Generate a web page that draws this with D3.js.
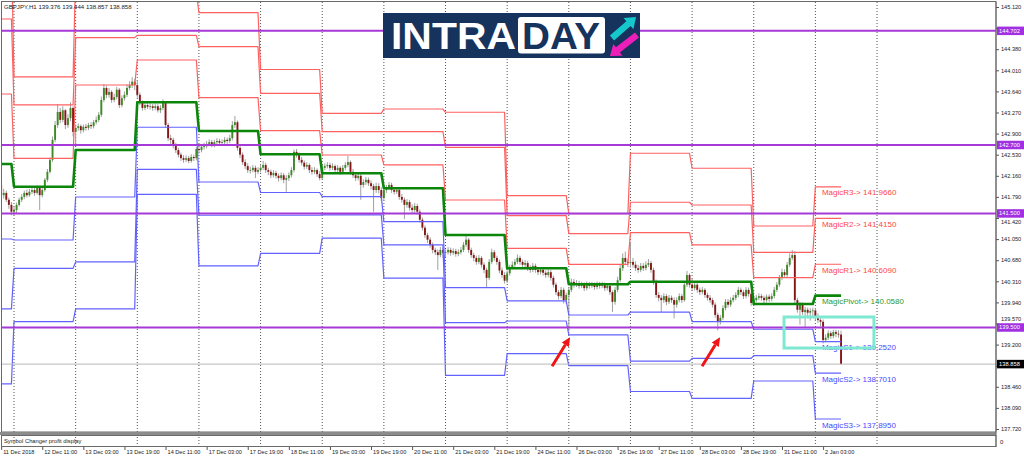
<!DOCTYPE html>
<html><head><meta charset="utf-8">
<script src="https://cdn.jsdelivr.net/npm/d3@7"></script>
<style>
body{margin:0;background:#fff}
svg{display:block}
text{font-family:"Liberation Sans",Arial,sans-serif}
</style>
</head><body>
<svg id="c" width="1024" height="459"></svg>
<script>
// ---------------- DATA ----------------
const title = "GBPJPY,H1  139.376 139.444 138.857 138.858";
const subTitle = "Symbol Changer profit display";
const days = ["11 Dec","12 Dec","13 Dec","14 Dec","17 Dec","18 Dec","19 Dec","20 Dec","21 Dec","24 Dec","26 Dec","27 Dec","28 Dec","31 Dec","2 Jan"];
const barsPerDay = [5,24,24,24,24,24,24,24,24,24,24,24,24,24,11];
const firstOpen = 142.00;
const closes = [
141.82,141.86,141.74,141.65,141.53,
141.56,141.65,141.74,141.79,141.86,141.82,141.88,141.91,141.86,141.95,141.82,141.91,142.09,142.23,142.44,142.79,143.05,143.28,143.14,143.31,143.05,143.17,143.35,142.93,
143.00,143.03,142.96,143.02,143.00,143.05,143.03,143.10,143.14,143.23,143.49,143.70,143.58,143.63,143.49,143.54,143.67,143.40,143.52,143.58,143.70,143.75,143.81,143.75,
143.58,143.44,143.35,143.40,143.37,143.38,143.35,143.38,143.31,143.35,143.44,143.05,142.82,142.79,142.70,142.61,142.53,142.47,142.44,142.47,142.42,142.49,142.47,142.63,
142.61,142.67,142.68,142.72,142.75,142.70,142.75,142.77,142.74,142.75,142.79,142.77,142.82,143.05,143.10,142.65,142.53,142.40,142.33,142.26,142.26,142.30,142.23,142.26,
142.30,142.35,142.26,142.23,142.17,142.21,142.16,142.12,142.17,142.09,142.12,142.17,142.26,142.58,142.53,142.44,142.39,142.32,142.35,142.26,142.23,142.26,142.19,142.12,
142.30,142.33,142.35,142.30,142.33,142.26,142.30,142.23,142.30,142.35,142.40,142.23,142.17,142.12,142.16,142.00,142.05,142.09,142.03,141.98,141.91,141.98,141.91,141.77,
141.91,141.95,142.00,141.91,141.88,141.91,141.79,141.74,141.65,141.70,141.60,141.56,141.63,141.53,141.39,141.25,141.12,141.04,140.95,140.86,140.82,140.77,140.86,140.81,
140.82,140.86,140.81,140.84,140.79,140.82,140.86,140.95,141.04,140.86,140.77,140.72,140.65,140.72,140.60,140.51,140.37,140.65,140.82,140.72,140.65,140.50,140.42,140.32,
140.45,140.55,140.60,140.65,140.72,140.65,140.60,140.63,140.54,140.51,140.58,140.51,140.47,140.51,140.46,140.42,140.47,140.37,140.25,140.12,140.05,140.16,139.98,140.07,
140.16,140.30,140.25,140.28,140.23,140.25,140.19,140.26,140.23,140.25,140.21,140.26,140.23,140.25,140.19,140.23,140.12,139.95,140.16,140.33,140.54,140.72,140.65,140.63,
140.65,140.60,140.54,140.51,140.58,140.54,140.60,140.63,140.51,140.30,140.07,140.02,139.98,140.05,139.95,140.02,139.98,139.90,139.98,140.05,139.98,140.25,140.42,140.25,
140.19,140.25,140.16,140.12,140.16,140.07,140.02,139.98,139.90,139.72,139.60,139.67,139.84,139.95,139.90,139.98,140.02,140.07,140.16,140.12,140.05,140.16,140.09,139.93,
139.98,140.02,140.05,140.02,139.98,140.04,140.00,140.05,140.16,140.25,140.37,140.47,140.42,140.60,140.72,140.77,139.98,139.81,139.90,139.77,139.81,139.76,139.79,139.80,
139.70,139.63,139.60,139.28,139.32,139.40,139.35,139.42,139.39,139.376,138.858
];
const highs = [
142.06,141.93,141.90,141.78,141.70,
141.62,141.69,141.78,141.84,141.90,141.92,141.93,141.96,141.95,141.99,141.98,141.95,142.12,142.28,142.48,142.85,143.12,143.42,143.35,143.38,143.33,143.24,143.45,143.38,
143.06,143.08,143.06,143.06,143.07,143.09,143.10,143.14,143.20,143.28,143.55,143.77,143.74,143.70,143.66,143.60,143.72,143.70,143.57,143.64,143.76,143.82,143.89,143.86,
143.84,143.62,143.48,143.45,143.44,143.43,143.42,143.43,143.42,143.40,143.50,143.47,143.09,142.88,142.83,142.74,142.65,142.57,142.52,142.52,142.51,142.54,142.53,142.66,
142.68,142.72,142.74,142.77,142.80,142.79,142.79,142.82,142.81,142.80,142.84,142.83,142.88,143.12,143.21,143.13,142.68,142.57,142.45,142.38,142.32,142.35,142.34,142.31,
142.36,142.42,142.39,142.30,142.27,142.26,142.25,142.20,142.22,142.21,142.17,142.22,142.31,142.62,142.63,142.57,142.49,142.43,142.40,142.38,142.31,142.31,142.29,142.24,
142.35,142.38,142.40,142.39,142.38,142.36,142.35,142.33,142.35,142.40,142.51,142.43,142.28,142.22,142.21,142.19,142.10,142.14,142.13,142.08,142.02,142.04,142.03,141.96,
141.96,142.00,142.05,142.04,141.96,141.96,141.94,141.84,141.78,141.75,141.74,141.66,141.68,141.67,141.57,141.43,141.29,141.16,141.08,140.99,140.90,140.87,140.91,140.90,
140.87,140.91,140.90,140.89,140.88,140.87,140.91,141.00,141.11,141.07,140.90,140.81,140.76,140.77,140.75,140.64,140.55,140.70,140.88,140.86,140.76,140.69,140.55,140.47,
140.50,140.60,140.66,140.70,140.78,140.76,140.69,140.68,140.67,140.59,140.63,140.62,140.56,140.56,140.55,140.50,140.52,140.51,140.41,140.29,140.16,140.21,140.20,140.11,
140.21,140.36,140.35,140.33,140.32,140.30,140.29,140.31,140.30,140.30,140.29,140.31,140.30,140.30,140.29,140.28,140.26,140.15,140.21,140.39,140.60,140.80,140.83,140.70,
141.00,140.72,140.66,140.60,140.63,140.63,140.66,140.70,140.67,140.55,140.34,140.12,140.07,140.10,140.09,140.07,140.06,140.03,140.03,140.10,140.09,140.30,140.49,140.45,
140.36,140.30,140.28,140.20,140.21,140.19,140.11,140.07,140.02,139.94,139.76,139.72,139.89,140.00,140.00,140.03,140.07,140.12,140.21,140.20,140.16,140.21,140.20,140.12,
140.03,140.07,140.10,140.09,140.06,140.08,140.08,140.10,140.21,140.30,140.42,140.53,140.52,140.65,140.80,140.86,140.84,140.02,139.95,139.94,139.86,139.85,139.84,139.85,
139.84,139.75,139.68,139.64,139.38,139.45,139.44,139.46,139.46,139.45,139.444
];
const lows = [
141.78,141.76,141.70,141.58,141.47,
141.47,141.50,141.62,141.70,141.75,141.78,141.79,141.84,141.81,141.83,141.56,141.78,141.88,142.05,142.20,142.40,142.75,143.00,143.08,143.10,142.98,143.00,143.12,142.85,
142.70,142.95,142.90,142.92,142.95,142.96,142.98,142.99,143.06,143.10,143.19,143.45,143.52,143.53,143.44,143.45,143.50,143.35,143.36,143.48,143.54,143.66,143.70,143.66,
143.53,143.40,143.30,143.31,143.33,143.32,143.30,143.31,143.27,143.26,143.31,143.00,142.77,142.72,142.64,142.56,142.48,142.42,142.39,142.40,142.38,142.39,142.42,142.43,
142.55,142.57,142.62,142.64,142.68,142.66,142.66,142.71,142.69,142.70,142.71,142.72,142.73,142.78,143.00,142.60,142.47,142.35,142.28,142.21,142.20,142.22,142.12,142.19,
142.22,142.26,142.21,142.17,142.12,142.13,142.11,142.06,142.08,142.03,141.88,142.07,142.13,142.22,142.48,142.39,142.34,142.27,142.28,142.21,142.18,142.19,142.14,142.08,
142.10,142.26,142.29,142.25,142.26,142.21,142.22,142.18,142.19,142.26,142.31,142.18,142.12,142.07,142.08,141.74,141.95,142.00,141.98,141.92,141.53,141.86,141.85,141.72,
141.72,141.86,141.91,141.86,141.83,141.84,141.74,141.69,141.40,141.60,141.55,141.50,141.51,141.48,141.34,141.20,141.07,140.98,140.90,140.80,140.77,140.51,140.73,140.72,
140.73,140.78,140.76,140.77,140.74,140.75,140.78,140.82,140.91,140.81,140.72,140.66,140.60,140.61,140.55,140.45,140.21,140.33,140.61,140.67,140.60,140.45,140.37,140.27,
140.28,140.41,140.52,140.56,140.61,140.60,140.55,140.56,140.49,140.46,140.47,140.46,140.42,140.43,140.41,140.37,140.38,140.32,140.20,140.07,139.99,140.01,139.92,139.91,
139.44,140.12,140.20,140.21,140.18,140.19,140.14,140.15,140.18,140.19,140.16,140.17,140.18,140.19,140.14,140.15,140.07,139.77,139.90,140.12,140.29,140.49,140.60,140.56,
140.55,140.55,140.49,140.46,140.47,140.49,140.50,140.56,140.46,140.25,140.02,139.96,139.77,139.93,139.89,139.91,139.93,139.66,139.85,139.94,139.93,139.95,140.21,140.20,
140.14,140.15,140.11,140.07,140.08,140.02,139.97,139.93,139.85,139.67,139.45,139.55,139.63,139.80,139.85,139.86,139.94,139.98,140.03,140.07,140.00,140.01,140.04,139.88,
139.89,139.94,139.98,139.97,139.93,139.94,139.95,139.96,140.01,140.12,140.21,140.33,140.37,140.38,140.56,140.68,139.93,139.76,139.55,139.72,139.51,139.70,139.62,139.70,
139.62,139.58,139.52,139.22,139.24,139.28,139.30,139.31,139.33,139.32,138.857
];
// daily Magic pivot levels (one value per day)
const pivotP = [142.367,141.969,142.613,143.449,142.946,142.537,142.204,141.941,141.122,140.538,140.258,140.303,140.303,139.912,140.058];
const levelR1 = [143.594,142.467,143.752,144.191,143.530,142.951,142.525,142.350,141.736,140.889,140.608,141.162,140.947,140.373,140.609];
const levelR2 = [144.910,143.402,144.582,144.624,144.424,143.607,142.933,142.933,142.660,141.462,141.147,141.696,141.648,140.817,141.415];
const levelR3 = [146.137,143.893,145.716,145.366,145.020,144.024,143.254,143.331,143.274,141.813,141.497,142.555,142.292,141.280,141.966];
const levelS1 = [141.052,141.034,141.788,143.011,142.051,141.867,141.795,141.357,140.198,139.965,139.719,139.770,139.602,139.469,139.252];
const levelS2 = [139.825,140.537,140.649,142.274,141.468,141.468,141.475,140.948,139.584,139.614,139.369,138.911,138.958,139.007,138.701];
const levelS3 = [138.510,139.602,139.825,141.836,140.579,140.798,141.066,140.365,138.660,139.041,138.830,138.378,138.257,138.562,137.895];
const pivotNames = ["MagicR3","MagicR2","MagicR1","MagicPivot","MagicS1","MagicS2","MagicS3"];
const horizontalLevels = [144.702, 142.700, 141.500, 139.500];
const lastPrice = 138.858;
const priceTicks = [137.720,138.090,138.460,138.830,139.200,139.570,139.940,140.310,140.680,141.050,141.420,141.790,142.160,142.530,142.900,143.270,143.640,144.010,144.380,144.750,145.120];
const timeLabels = ["11 Dec 2018","12 Dec 11:00","13 Dec 03:00","13 Dec 19:00","14 Dec 11:00","17 Dec 03:00","17 Dec 19:00","18 Dec 11:00","19 Dec 03:00","19 Dec 19:00","20 Dec 11:00","21 Dec 03:00","21 Dec 19:00","24 Dec 11:00","26 Dec 03:00","26 Dec 19:00","27 Dec 11:00","28 Dec 03:00","28 Dec 19:00","31 Dec 11:00","2 Jan 03:00"];
const labelEvery = 16;
const arrowTips = [{bar:221.5, price:139.33},{bar:279.9, price:139.33}];
const zoneBox = {bar0:304.8, bar1:339.8, top:139.684, bottom:139.140};

// ---------------- SCALES ----------------
const svg = d3.select("#c");
const P = {left:2, right:996, top:2, bottom:432, subTop:436, subBottom:447};
const x = d3.scaleLinear().domain([0, closes.length-1]).range([1.16, 841.06]);
const y = d3.scaleLinear().domain([137.72,145.12]).range([429,7]);

svg.append("rect").attr("width",1024).attr("height",459).attr("fill","#fff");
svg.append("defs").append("clipPath").attr("id","clip")
  .append("rect").attr("x",P.left).attr("y",P.top).attr("width",P.right-P.left).attr("height",P.bottom-P.top);

// day structure
const dayStart = []; let acc = 0;
barsPerDay.forEach(n => { dayStart.push(acc); acc += n; });
const dayOfBar = [];
barsPerDay.forEach((n,d) => { for (let k=0;k<n;k++) dayOfBar.push(d); });

// ---------------- PERIOD SEPARATORS ----------------
const sepBars = dayStart.slice(1).concat([dayStart[dayStart.length-1]+24]);
svg.append("g").selectAll("line").data(sepBars).join("line")
  .attr("x1",d=>x(d)).attr("x2",d=>x(d)).attr("y1",P.top).attr("y2",P.subBottom)
  .attr("stroke","#555").attr("stroke-width",1).attr("stroke-dasharray","1,2");

const g = svg.append("g").attr("clip-path","url(#clip)");

// ---------------- CANDLES ----------------
const bars = closes.map((c,i)=>{
  const o = i===0 ? firstOpen : closes[i-1];
  return {i, o, c, h:Math.max(highs[i],o,c), l:Math.min(lows[i],o,c)};
});
g.append("g").selectAll("line").data(bars).join("line")
  .attr("x1",d=>x(d.i)).attr("x2",d=>x(d.i))
  .attr("y1",d=>y(d.h)).attr("y2",d=>y(d.l))
  .attr("stroke","#a0a0a0").attr("stroke-width",1);
g.append("g").selectAll("rect").data(bars).join("rect")
  .attr("x",d=>x(d.i)-0.95).attr("width",1.9)
  .attr("y",d=>y(Math.max(d.o,d.c)))
  .attr("height",d=>Math.max(0.8, Math.abs(y(d.o)-y(d.c))))
  .attr("fill",d=>d.c>=d.o ? "#3d8a26" : "#861616");

// ---------------- PIVOT LINES ----------------
const series = [
  {v:levelR3, color:"#ff6060", w:1.2},
  {v:levelR2, color:"#ff6060", w:1.2},
  {v:levelR1, color:"#ff6060", w:1.2},
  {v:levelS1, color:"#6262ff", w:1.2},
  {v:levelS2, color:"#6262ff", w:1.2},
  {v:levelS3, color:"#6262ff", w:1.2},
  {v:pivotP, color:"#0b860b", w:2.6}
];
const line = d3.line().x(d=>x(d[0])).y(d=>y(d[1]));
series.forEach(s=>{
  const pts = closes.map((c,i)=>[i, s.v[dayOfBar[i]]]);
  g.append("path").attr("d",line(pts)).attr("fill","none")
    .attr("stroke",s.color).attr("stroke-width",s.w).attr("stroke-linejoin","round");
});

// ---------------- HORIZONTAL LEVELS ----------------
svg.append("line").attr("x1",P.left).attr("x2",P.right).attr("y1",y(lastPrice)).attr("y2",y(lastPrice))
  .attr("stroke","#b8b8b8").attr("stroke-width",1);
svg.append("g").selectAll("line").data(horizontalLevels).join("line")
  .attr("x1",P.left).attr("x2",P.right).attr("y1",d=>y(d)).attr("y2",d=>y(d))
  .attr("stroke","#a63ad8").attr("stroke-width",2);

// ---------------- PIVOT LABELS ----------------
const last = barsPerDay.length-1;
const lastLevels = [levelR3[last],levelR2[last],levelR1[last],pivotP[last],levelS1[last],levelS2[last],levelS3[last]];
const labColors = ["#ff4646","#ff4646","#ff4646","#2f9a2f","#4848ff","#4848ff","#4848ff"];
const fmt4 = d3.format(".4f");
svg.append("g").selectAll("text").data(lastLevels).join("text")
  .attr("x", x(320)-1.2).attr("y", d=>y(d)+8.6)
  .attr("font-size","8px").attr("fill",(d,i)=>labColors[i])
  .text((d,i)=>pivotNames[i]+"-> "+fmt4(d));

// ---------------- ZONE BOX ----------------
svg.append("rect")
  .attr("x",x(zoneBox.bar0)).attr("y",y(zoneBox.top))
  .attr("width",x(zoneBox.bar1)-x(zoneBox.bar0)).attr("height",y(zoneBox.bottom)-y(zoneBox.top))
  .attr("fill","none").attr("stroke","#7fe8d2").attr("stroke-width",3);

// ---------------- RED ARROWS ----------------
arrowTips.forEach(a=>{
  const tx = x(a.bar), ty = y(a.price);
  const dx = -18, dy = 29, L = Math.hypot(dx,dy);
  const ux = -dx/L, uy = -dy/L;
  const nx = -uy, ny = ux;
  const hl = 9, hw = 4.2;
  const bx = tx - ux*hl, by = ty - uy*hl;
  svg.append("line").attr("x1",tx+dx).attr("y1",ty+dy).attr("x2",bx).attr("y2",by)
    .attr("stroke","#f01414").attr("stroke-width",3);
  svg.append("polygon").attr("points",[[tx,ty],[bx+nx*hw,by+ny*hw],[bx-nx*hw,by-ny*hw]].map(p=>p.join(",")).join(" "))
    .attr("fill","#f01414");
});

// ---------------- FRAME ----------------
svg.append("rect").attr("x",P.left-0.5).attr("y",P.top-0.5).attr("width",P.right-P.left+0.5).attr("height",P.bottom-P.top+0.5)
  .attr("fill","none").attr("stroke","#6a6a6a").attr("stroke-width",1);
svg.append("rect").attr("x",0).attr("y",P.bottom).attr("width",P.right).attr("height",3).attr("fill","#8c8c8c");
svg.append("rect").attr("x",P.left-0.5).attr("y",P.subTop-0.5).attr("width",P.right-P.left+0.5).attr("height",P.subBottom-P.subTop)
  .attr("fill","none").attr("stroke","#6a6a6a").attr("stroke-width",1);
svg.append("line").attr("x1",P.right).attr("x2",P.right).attr("y1",P.top).attr("y2",P.subBottom).attr("stroke","#6a6a6a");

// ---------------- AXES ----------------
const boxH = 8.5;
const flagged = horizontalLevels.concat([lastPrice]);
const yAxis = svg.append("g").attr("transform",`translate(${P.right},0)`)
  .call(d3.axisRight(y).tickValues(priceTicks).tickSize(3).tickPadding(2).tickFormat(d3.format(".3f")));
yAxis.select(".domain").remove();
yAxis.selectAll("line").attr("stroke","#555");
yAxis.selectAll("text").attr("font-size","5.6px").attr("fill","#222").attr("font-family","Liberation Sans, Arial, sans-serif")
  .each(function(d){
    // tick labels hidden under a flagged label are dropped; near ones are nudged clear of it
    let best = null;
    flagged.forEach(v=>{ const dd = y(d)-y(v); if (best===null || Math.abs(dd)<Math.abs(best)) best = dd; });
    const t = d3.select(this);
    if (Math.abs(best) < 3) t.remove();
    else if (Math.abs(best) < 8.5) t.attr("y", best<0 ? -(8.6-Math.abs(best)) : (8.6-Math.abs(best)));
  });

const hl = svg.append("g");
horizontalLevels.forEach(v=>{
  hl.append("rect").attr("x",P.right+1).attr("y",y(v)-boxH/2).attr("width",27).attr("height",boxH).attr("fill","#a030e0");
  hl.append("text").attr("x",P.right+3).attr("y",y(v)+2).attr("font-size","5.8px").attr("fill","#fff").text(d3.format(".3f")(v));
});
hl.append("rect").attr("x",P.right+1).attr("y",y(lastPrice)-boxH/2).attr("width",27).attr("height",boxH).attr("fill","#000");
hl.append("text").attr("x",P.right+3).attr("y",y(lastPrice)+2).attr("font-size","5.8px").attr("fill","#fff").text(d3.format(".3f")(lastPrice));
svg.append("text").attr("x",P.right+4).attr("y",P.subBottom-3).attr("font-size","6px").attr("fill","#222").text("0");

// time axis
const tBars = timeLabels.map((t,k)=>k*labelEvery);
const xAxis = svg.append("g").attr("transform",`translate(0,${P.subBottom})`)
  .call(d3.axisBottom(x).tickValues(tBars).tickSize(3).tickFormat((d,k)=>timeLabels[k]));
xAxis.select(".domain").remove();
xAxis.selectAll("line").attr("stroke","#555");
xAxis.selectAll("text").attr("font-size","5.6px").attr("fill","#222").attr("text-anchor","start")
  .attr("dx","1.5").attr("dy","0.25em").attr("font-family","Liberation Sans, Arial, sans-serif");

// titles
svg.append("text").attr("x",4).attr("y",9).attr("font-size","6.1px").attr("fill","#222").text(title);
svg.append("text").attr("x",4).attr("y",443).attr("font-size","5.8px").attr("fill","#222").text(subTitle);

// ---------------- LOGO ----------------
const logo = svg.append("g");
logo.append("rect").attr("x",383).attr("y",13).attr("width",257).attr("height",45).attr("fill","#15335c");
logo.append("text").attr("x",391).attr("y",48.5).attr("font-size","37px").attr("font-weight","bold")
  .attr("font-family","Open Sans, Lato, sans-serif").attr("fill","#fff")
  .attr("textLength",125).attr("lengthAdjust","spacingAndGlyphs").text("INTRA");
logo.append("rect").attr("x",518).attr("y",17).attr("width",87).attr("height",36.5).attr("rx",3).attr("fill","#fff");
logo.append("text").attr("x",522).attr("y",48.5).attr("font-size","37px").attr("font-weight","bold")
  .attr("font-family","Open Sans, Lato, sans-serif").attr("fill","#15335c")
  .attr("textLength",78).attr("lengthAdjust","spacingAndGlyphs").text("DAY");
function blockArrow(x0,y0,x1,y1,sw,hw,hlen,color){
  const L = Math.hypot(x1-x0,y1-y0), ux=(x1-x0)/L, uy=(y1-y0)/L, nx=-uy, ny=ux;
  const bx=x1-ux*hlen, by=y1-uy*hlen;
  const pts=[[x0+nx*sw,y0+ny*sw],[bx+nx*sw,by+ny*sw],[bx+nx*hw,by+ny*hw],[x1,y1],[bx-nx*hw,by-ny*hw],[bx-nx*sw,by-ny*sw],[x0-nx*sw,y0-ny*sw]];
  logo.append("polygon").attr("points",pts.map(p=>p.join(",")).join(" ")).attr("fill",color);
}
blockArrow(612,38,636,17,3.2,7.5,10,"#14c8cc");
blockArrow(637,35,610,56,3.2,7.5,10,"#ee1fb8");
</script>
</body></html>
